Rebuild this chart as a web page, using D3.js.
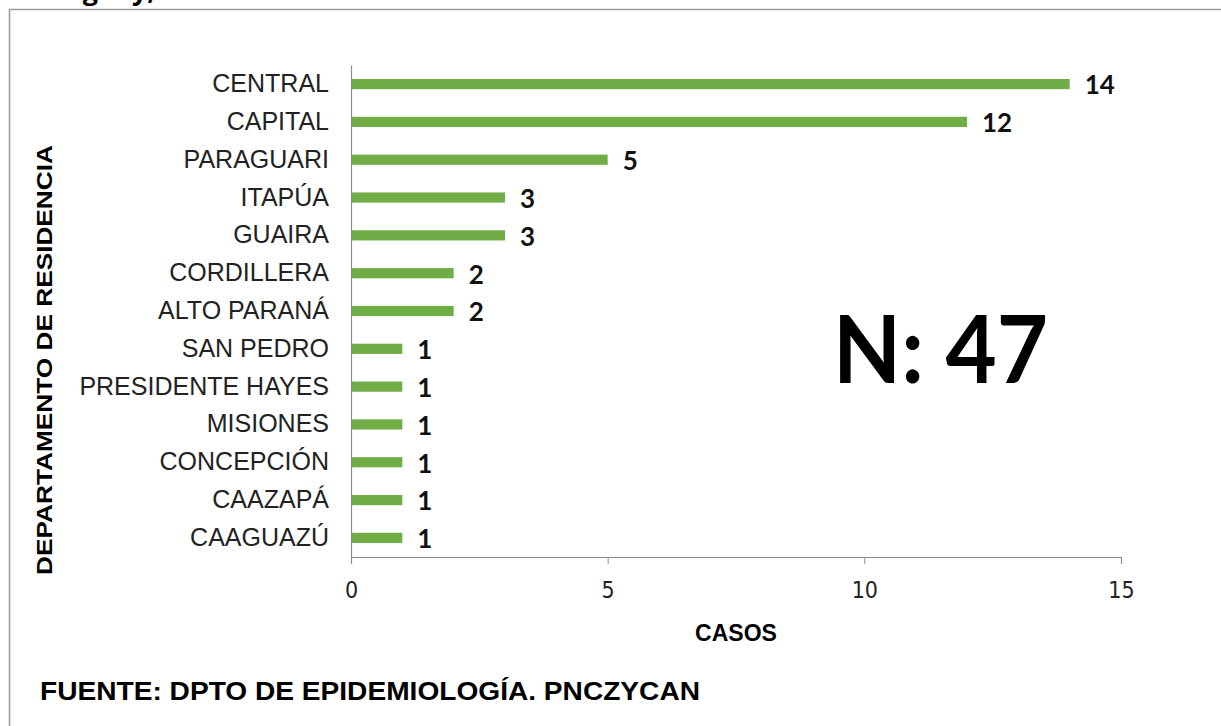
<!DOCTYPE html>
<html>
<head>
<meta charset="utf-8">
<script src="https://cdn.jsdelivr.net/npm/d3@7"></script>
<style>
	body { margin: 0; background: #fff; }
	svg { display: block; }
</style>
</head>
<body>
<svg width="1221" height="726"></svg>
<script>
// departamentos, de arriba hacia abajo
var departamentos = ["CENTRAL", "CAPITAL", "PARAGUARI", "ITAPÚA", "GUAIRA", "CORDILLERA", "ALTO PARANÁ",
	"SAN PEDRO", "PRESIDENTE HAYES", "MISIONES", "CONCEPCIÓN", "CAAZAPÁ", "CAAGUAZÚ"];
var casos = [14, 12, 5, 3, 3, 2, 2, 1, 1, 1, 1, 1, 1];
var xTicks = [0, 5, 10, 15];

var svg = d3.select("svg");

// recuadro del grafico (sigue fuera de la imagen)
svg.append("rect")
	.attr("x", 9.5).attr("y", 9.5)
	.attr("width", 1300).attr("height", 800)
	.attr("fill", "none")
	.attr("stroke", "#9a9a9a")
	.attr("stroke-width", 1.5);

// titulo cortado arriba (asi viene en la imagen original)
svg.append("text")
	.attr("x", 155).attr("y", 0)
	.attr("text-anchor", "end")
	.attr("font-family", "Open Sans")
	.attr("font-weight", "bold")
	.attr("font-size", 27)
	.text("Paraguay,");

var data = departamentos.map(function(d, i) {
	return { dep: d, n: casos[i] };
});

var x = d3.scaleLinear().domain([0, 15]).range([351, 1121]),
	y = d3.scaleBand().domain(departamentos).range([65, 557]).paddingInner(0.73).paddingOuter(0.37);

// eje x
var gx = svg.append("g")
	.attr("transform", "translate(0,557)")
	.call(d3.axisBottom(x).tickValues(xTicks).tickSize(7).tickPadding(18));
gx.select(".domain").attr("stroke", "#8c8c8c").attr("stroke-width", 1.2);
gx.selectAll(".tick line").attr("stroke", "#8c8c8c");
gx.selectAll(".tick text")
	.attr("font-family", "Liberation Sans Narrow, DejaVu Sans Condensed, sans-serif")
	.attr("font-size", 23)
	.attr("fill", "#222");

// eje y
var gy = svg.append("g")
	.attr("transform", "translate(351,0)")
	.call(d3.axisLeft(y).tickSize(0).tickPadding(22));
gy.select(".domain").attr("stroke", "#8c8c8c").attr("stroke-width", 1.2);
gy.selectAll(".tick text")
	.attr("font-family", "Liberation Sans, Arial, sans-serif")
	.attr("font-size", 25)
	.attr("fill", "#222");

// barras
svg.selectAll(".bar")
	.data(data)
	.enter().append("rect")
	.attr("class", "bar")
	.attr("x", x(0) + 1)
	.attr("y", function(d) { return y(d.dep); })
	.attr("width", function(d) { return x(d.n) - x(0) - 1; })
	.attr("height", y.bandwidth())
	.attr("fill", "#70ad47");

// etiquetas de valor
svg.selectAll(".lbl")
	.data(data)
	.enter().append("text")
	.attr("class", "lbl")
	.attr("x", function(d) { return x(d.n) + 15; })
	.attr("y", function(d) { return y(d.dep) + y.bandwidth() / 2; })
	.attr("dy", "0.4em")
	.attr("font-family", "Lato, Open Sans, sans-serif")
	.attr("font-weight", "bold")
	.attr("font-size", 26)
	.attr("fill", "#111")
	.text(function(d) { return d.n; });

// titulos de ejes
svg.append("text")
	.attr("transform", "translate(52,360) rotate(-90)")
	.attr("text-anchor", "middle")
	.attr("font-family", "Liberation Sans, Arial, sans-serif")
	.attr("font-weight", "bold")
	.attr("font-size", 22)
	.attr("textLength", 430)
	.attr("lengthAdjust", "spacingAndGlyphs")
	.text("DEPARTAMENTO DE RESIDENCIA");

svg.append("text")
	.attr("x", 736).attr("y", 641)
	.attr("text-anchor", "middle")
	.attr("font-family", "Liberation Sans, Arial, sans-serif")
	.attr("font-weight", "bold")
	.attr("font-size", 23)
	.text("CASOS");

// N total
svg.append("text")
	.attr("x", 833).attr("y", 383)
	.attr("font-family", "Lato, Open Sans, sans-serif")
	.attr("font-weight", "bold")
	.attr("font-size", 94)
	.attr("textLength", 215)
	.attr("lengthAdjust", "spacingAndGlyphs")
	.attr("fill", "#000")
	.text("N: 47");

// fuente
svg.append("text")
	.attr("x", 40).attr("y", 700)
	.attr("font-family", "Liberation Sans, Arial, sans-serif")
	.attr("font-weight", "bold")
	.attr("font-size", 25)
	.attr("textLength", 660)
	.attr("lengthAdjust", "spacingAndGlyphs")
	.text("FUENTE: DPTO DE EPIDEMIOLOGÍA. PNCZYCAN");
</script>
</body>
</html>
